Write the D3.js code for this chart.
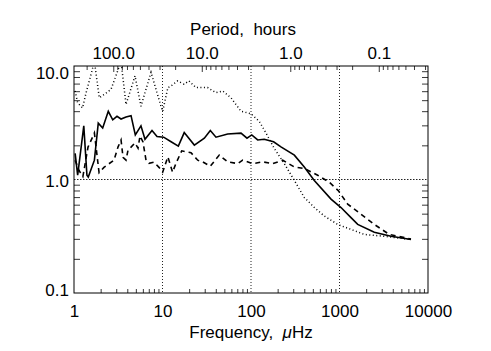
<!DOCTYPE html>
<html lang="en">

<head>
  <meta charset="UTF-8">
  <title>Power spectrum</title>
  <script src="https://d3js.org/d3.v7.min.js"></script>
  <style>
    body {
      margin: 0;
      background: white;
    }

    svg {
      display: block;
    }

    text {
      font-family: "Liberation Sans", Arial, Helvetica, sans-serif;
      font-size: 17px;
      fill: black;
    }
  </style>
</head>

<body>
  <div id="chart"></div>

  <script>
    // frequency in microHz, relative power
    const solidFreq = [1.03, 1.10, 1.29, 1.40, 1.45, 1.70, 1.88, 2.11, 2.44, 2.74, 3.06, 3.40, 3.87, 4.41, 4.93, 5.71, 6.34, 7.61, 8.67, 10.3, 12.5, 15.1, 17.6, 22.9, 29.7, 34.7, 40.2, 54.5, 77.1, 90.1, 102, 119, 141, 180, 218, 309, 400, 519, 802, 1040, 1349, 1606, 2473, 3820, 6427]
    const solidPower = [1.70, 1.09, 2.97, 1.09, 1.05, 1.48, 3.14, 2.84, 3.99, 3.36, 3.60, 3.41, 3.56, 3.65, 2.47, 2.97, 2.26, 2.70, 2.39, 2.36, 2.15, 1.97, 2.59, 2.01, 2.31, 2.70, 2.36, 2.52, 2.56, 2.31, 2.47, 2.23, 2.26, 2.15, 1.94, 1.64, 1.29, 0.98, 0.672, 0.566, 0.461, 0.402, 0.343, 0.316, 0.296]

    const dashedFreq = [1.03, 1.14, 1.26, 1.44, 1.70, 1.92, 2.18, 2.83, 3.14, 3.40, 3.58, 3.87, 4.08, 4.41, 4.89, 5.29, 5.57, 6.02, 6.51, 7.04, 8.02, 9.13, 10.05, 11.5, 13.0, 14.2, 16.5, 21.0, 25.0, 28.5, 34.7, 43.8, 54.5, 70.8, 80.6, 105, 136, 176, 228, 309, 400, 567, 767, 969, 1238, 1750, 2473, 3652, 6427]
    const dashedPower = [1.48, 1.20, 1.06, 1.93, 2.57, 1.15, 1.28, 1.48, 1.93, 2.23, 1.57, 1.48, 1.82, 1.93, 2.10, 1.89, 2.42, 2.14, 1.48, 1.39, 1.42, 1.28, 1.16, 1.58, 1.16, 1.39, 1.79, 1.72, 1.48, 1.43, 1.31, 1.64, 1.43, 1.38, 1.48, 1.38, 1.43, 1.38, 1.48, 1.29, 1.25, 1.09, 0.946, 0.798, 0.607, 0.494, 0.402, 0.328, 0.299]

    const dottedFreq = [1.03, 1.10, 1.25, 1.37, 1.56, 1.70, 1.93, 2.20, 2.62, 3.12, 3.40, 3.87, 4.89, 5.71, 7.42, 9.61, 10.05, 11.5, 12.5, 14.8, 17.5, 19.9, 23.9, 32.4, 40.2, 47.9, 59.4, 77.1, 100, 124, 148, 183, 238, 309, 400, 519, 673, 955, 1349, 1906, 3208, 6427]
    const dottedPower = [6.02, 4.74, 4.28, 5.82, 8.48, 11.0, 5.25, 5.62, 6.23, 9.08, 11.0, 4.58, 8.19, 4.42, 8.79, 4.42, 3.99, 6.45, 6.67, 7.39, 6.91, 7.39, 6.45, 6.45, 5.82, 6.02, 5.25, 3.99, 3.80, 3.25, 2.56, 1.88, 1.38, 0.98, 0.695, 0.566, 0.477, 0.402, 0.363, 0.328, 0.316, 0.296]

    const xTicks = [1, 10, 100, 1000, 10000]
    const yTicks = [0.1, 1, 10]
    const yLabels = ['0.1', '1.0', '10.0']
    const periodTicks = [100, 10, 1, 0.1]
    const periodLabels = ['100.0', '10.0', '1.0', '0.1']
    const gridX = [10, 100, 1000]
    const gridY = [1]

    const width = 491
    const height = 351
    const margin = { top: 66, right: 63, bottom: 58, left: 74 }
    const w = width - margin.left - margin.right
    const h = height - margin.top - margin.bottom

    const svg = d3.select('#chart')
      .append('svg')
      .attr('width', width)
      .attr('height', height)

    const g = svg.append('g')
      .attr('transform', `translate(${margin.left},${margin.top})`)

    const x = d3.scaleLog().domain([1, 10000]).range([0, w])
    const y = d3.scaleLog().domain([0.1, 10]).range([h, 0])

    // period in hours for 1 microHz
    const hoursAt1 = 1e6 / 3600
    const period = d3.scaleLog().domain([hoursAt1, hoursAt1 / 10000]).range([0, w])

    const minorX = [1, 10, 100, 1000].flatMap(d => d3.range(2, 10).map(k => k * d))
    const minorY = [0.1, 1].flatMap(d => d3.range(2, 10).map(k => k * d))
    const minorP = [0.01, 0.1, 1, 10, 100]
      .flatMap(d => d3.range(2, 10).map(k => k * d))
      .filter(p => p <= hoursAt1 && p >= hoursAt1 / 10000)

    const styleTicks = sel => {
      sel.select('.domain').remove()
      sel.selectAll('line').attr('stroke', '#222').attr('stroke-width', 0.9)
    }

    // grid
    g.selectAll('.gx')
      .data(gridX)
      .join('line')
      .attr('x1', d => x(d)).attr('x2', d => x(d))
      .attr('y1', 0).attr('y2', h)
      .attr('stroke', '#222')
      .attr('stroke-dasharray', '1,2')

    g.selectAll('.gy')
      .data(gridY)
      .join('line')
      .attr('x1', 0).attr('x2', w)
      .attr('y1', d => y(d)).attr('y2', d => y(d))
      .attr('stroke', '#222')
      .attr('stroke-dasharray', '1.5,1.5')

    // minor ticks
    g.append('g').attr('transform', `translate(0,${h})`)
      .call(d3.axisBottom(x).tickValues(minorX).tickSize(-4).tickFormat(''))
      .call(styleTicks)

    g.append('g')
      .call(d3.axisTop(period).tickValues(minorP).tickSize(-4).tickFormat(''))
      .call(styleTicks)

    g.append('g')
      .call(d3.axisLeft(y).tickValues(minorY).tickSize(-6).tickFormat(''))
      .call(styleTicks)

    g.append('g').attr('transform', `translate(${w},0)`)
      .call(d3.axisRight(y).tickValues(minorY).tickSize(-6).tickFormat(''))
      .call(styleTicks)

    // major ticks + labels
    g.append('g')
      .call(d3.axisTop(period).tickValues(periodTicks).tickSizeInner(-6).tickSizeOuter(0).tickPadding(7)
        .tickFormat((d, i) => periodLabels[i]))
      .call(styleTicks)
      .call(a => a.selectAll('text').attr('font-size', 17).attr('font-family', null))

    g.append('g').attr('transform', `translate(0,${h})`)
      .call(d3.axisBottom(x).tickValues(xTicks).tickSize(0).tickPadding(12).tickFormat(d3.format('d')))
      .call(styleTicks)
      .call(a => a.selectAll('text').attr('font-size', 17).attr('font-family', null))

    g.selectAll('.ylab')
      .data(yTicks)
      .join('text')
      .attr('x', -5)
      .attr('y', d => Math.min(Math.max(y(d) + 7, 12.5), h + 3))
      .attr('text-anchor', 'end')
      .text((d, i) => yLabels[i])

    // data
    svg.append('clipPath').attr('id', 'clip')
      .append('rect').attr('width', w).attr('height', h)

    const line = d3.line().x(d => x(d[0])).y(d => y(d[1]))
    const plot = g.append('g').attr('clip-path', 'url(#clip)')

    plot.append('path')
      .datum(d3.zip(dottedFreq, dottedPower))
      .attr('d', line)
      .attr('fill', 'none')
      .attr('stroke', 'black')
      .attr('stroke-width', 1.5)
      .attr('stroke-dasharray', '1,2.5')

    plot.append('path')
      .datum(d3.zip(dashedFreq, dashedPower))
      .attr('d', line)
      .attr('fill', 'none')
      .attr('stroke', 'black')
      .attr('stroke-width', 1.6)
      .attr('stroke-dasharray', '5,4')

    plot.append('path')
      .datum(d3.zip(solidFreq, solidPower))
      .attr('d', line)
      .attr('fill', 'none')
      .attr('stroke', 'black')
      .attr('stroke-width', 1.6)

    // frame
    g.append('rect')
      .attr('width', w)
      .attr('height', h)
      .attr('fill', 'none')
      .attr('stroke', 'black')
      .attr('stroke-width', 1)

    // titles
    g.append('text')
      .attr('x', w / 2 - 8)
      .attr('y', -31.5)
      .attr('text-anchor', 'middle')
      .style('white-space', 'pre')
      .text('Period,  hours')

    const xt = g.append('text')
      .attr('x', w / 2)
      .attr('y', h + 45)
      .attr('text-anchor', 'middle')
      .style('white-space', 'pre')
    xt.append('tspan').text('Frequency,  ')
    xt.append('tspan').attr('font-style', 'italic').text('μ')
    xt.append('tspan').text('Hz')
  </script>
</body>

</html>
